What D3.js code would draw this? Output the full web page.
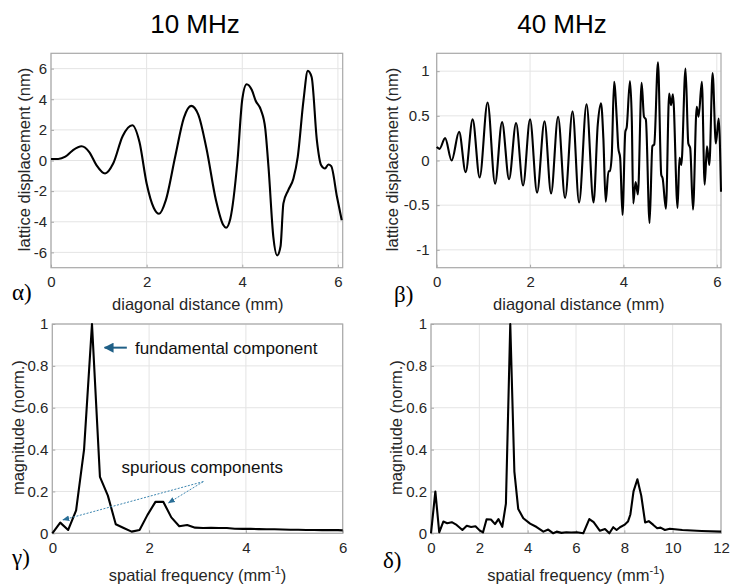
<!DOCTYPE html>
<html><head><meta charset="utf-8">
<script src="https://cdn.jsdelivr.net/npm/d3@7"></script>
<style>
html,body{margin:0;padding:0;background:#fff;}
svg{display:block;font-family:"Liberation Sans",Arial,sans-serif;}
</style></head>
<body>
<script>
// ---------- DATA ----------
const titles = ["10 MHz", "40 MHz"];
const panelLetters = ["α)", "β)", "γ)", "δ)"];

// panel α : 10 MHz lattice displacement (nm) vs diagonal distance (mm)
const distA = [0.00,0.15,0.30,0.45,0.64,0.80,0.95,1.13,1.30,1.50,1.70,1.85,2.00,2.15,2.26,2.40,2.60,2.78,2.93,3.08,3.25,3.45,3.60,3.66,3.75,3.90,4.00,4.09,4.20,4.28,4.39,4.48,4.55,4.65,4.73,4.80,4.86,4.96,5.07,5.16,5.28,5.37,5.45,5.56,5.65,5.73,5.80,5.86,5.98,6.08];
const dispA = [0.10,0.10,0.25,0.65,0.93,0.55,-0.30,-0.85,-0.20,1.60,2.30,1.20,-1.50,-3.10,-3.48,-2.60,0.30,2.80,3.57,3.00,0.80,-2.60,-4.20,-4.39,-3.80,0.00,4.00,4.98,4.60,3.90,3.30,2.10,-0.50,-5.00,-6.20,-5.60,-2.80,-1.95,-1.17,0.24,3.93,5.85,5.45,1.32,-0.31,-0.52,-0.26,-0.37,-2.37,-3.90];

// panel β : 40 MHz lattice displacement (nm)
const distB = [0.00,0.06,0.18,0.32,0.48,0.62,0.77,0.92,1.09,1.25,1.40,1.55,1.70,1.85,2.00,2.15,2.31,2.45,2.60,2.75,2.91,3.05,3.21,3.36,3.45,3.52,3.57,3.62,3.68,3.71,3.75,3.80,3.86,3.89,3.93,3.98,4.04,4.07,4.14,4.18,4.21,4.26,4.31,4.39,4.44,4.48,4.56,4.62,4.66,4.74,4.81,4.84,4.91,4.98,5.02,5.06,5.16,5.20,5.24,5.33,5.39,5.43,5.49,5.57,5.61,5.68,5.74,5.79,5.84,5.91,5.98,6.04,6.09];
const dispB = [0.15,0.13,0.25,0.00,0.32,-0.13,0.46,-0.19,0.65,-0.26,0.43,-0.21,0.42,-0.28,0.46,-0.36,0.44,-0.37,0.49,-0.42,0.55,-0.47,0.63,-0.47,0.40,0.64,0.25,-0.46,-0.12,-0.12,0.06,0.88,0.44,0.14,0.03,-0.61,0.32,0.37,0.89,0.44,-0.48,-0.24,-0.38,0.87,0.49,0.46,-0.70,0.16,0.18,1.10,-0.16,-0.20,-0.54,0.75,0.62,0.74,-0.53,0.03,-0.05,1.03,0.19,0.14,-0.55,0.60,0.49,0.88,-0.27,0.16,-0.05,0.98,0.19,0.47,-0.35];

// panel γ : 10 MHz spectrum, magnitude (norm.) vs spatial frequency (mm^-1)
const freqC = [0.000,0.164,0.328,0.492,0.656,0.820,0.984,1.148,1.311,1.475,1.639,1.803,1.967,2.131,2.295,2.459,2.623,2.787,2.951,3.115,3.279,3.443,3.607,3.770,3.934,4.098,4.262,4.426,4.590,4.754,4.918,5.082,5.246,5.410,5.574,5.738,5.902,6.000];
const magC  = [0.000,0.051,0.016,0.110,0.400,1.000,0.270,0.180,0.043,0.025,0.008,0.016,0.088,0.150,0.150,0.076,0.034,0.040,0.027,0.025,0.026,0.025,0.025,0.022,0.021,0.021,0.020,0.019,0.019,0.018,0.017,0.017,0.016,0.016,0.015,0.015,0.015,0.014];

// panel δ : 40 MHz spectrum
const freqD = [0.00,0.18,0.34,0.51,0.67,0.86,1.06,1.30,1.48,1.66,1.84,2.01,2.15,2.30,2.48,2.65,2.79,2.95,3.10,3.28,3.45,3.61,3.82,4.10,4.37,4.65,4.85,5.06,5.20,5.40,5.60,5.80,6.03,6.30,6.55,6.73,6.99,7.20,7.38,7.54,7.68,7.82,8.00,8.15,8.25,8.38,8.54,8.70,8.86,9.01,9.20,9.36,9.50,9.68,9.88,10.40,11.20,12.00];
const magD  = [0.000,0.200,0.005,0.056,0.048,0.053,0.040,0.016,0.036,0.030,0.034,0.014,0.004,0.067,0.066,0.044,0.068,0.031,0.142,1.000,0.295,0.116,0.072,0.046,0.030,0.008,0.018,0.000,0.008,0.002,0.005,0.004,0.005,0.000,0.068,0.053,0.012,0.020,0.000,0.029,0.016,0.029,0.040,0.056,0.090,0.200,0.258,0.180,0.052,0.058,0.040,0.024,0.027,0.016,0.022,0.016,0.011,0.008];

const ticksA = {x:[0,2,4,6], y:[-6,-4,-2,0,2,4,6]};
const ticksB = {x:[0,2,4,6], y:[-1,-0.5,0,0.5,1]};
const ticksC = {x:[0,2,4,6], y:[0,0.2,0.4,0.6,0.8,1]};
const ticksD = {x:[0,2,4,6,8,10,12], y:[0,0.2,0.4,0.6,0.8,1]};

// ---------- DRAW ----------
const W = 730, H = 584;
const svg = d3.select("body").append("svg").attr("width", W).attr("height", H);
const fmt = v => String(v).replace("−","-");
const tickCol = "#262626";

function panel(cfg) {
  const g = svg.append("g");
  const x = d3.scaleLinear().domain(cfg.xd).range([cfg.l, cfg.r]);
  const y = d3.scaleLinear().domain(cfg.yd).range([cfg.b, cfg.t]);
  // grid
  g.append("g").selectAll("line.gx").data(cfg.ticks.x).join("line")
    .attr("x1", d => x(d)).attr("x2", d => x(d)).attr("y1", cfg.t).attr("y2", cfg.b)
    .attr("stroke", "#e4e4e4").attr("stroke-width", 1);
  g.append("g").selectAll("line.gy").data(cfg.ticks.y).join("line")
    .attr("y1", d => y(d)).attr("y2", d => y(d)).attr("x1", cfg.l).attr("x2", cfg.r)
    .attr("stroke", "#e4e4e4").attr("stroke-width", 1);
  // axes (ticks inward, MATLAB style)
  const xa = d3.axisBottom(x).tickValues(cfg.ticks.x).tickSizeInner(-3).tickSizeOuter(0).tickPadding(9).tickFormat(fmt);
  const ya = d3.axisLeft(y).tickValues(cfg.ticks.y).tickSizeInner(-3).tickSizeOuter(0).tickPadding(cfg.yPad).tickFormat(fmt);
  const gx = g.append("g").attr("transform", `translate(0,${cfg.b})`).call(xa);
  const gy = g.append("g").attr("transform", `translate(${cfg.l},0)`).call(ya);
  [gx, gy].forEach(a => {
    a.selectAll("path.domain").remove();
    a.selectAll("line").attr("stroke", "#a8a8a8");
    a.selectAll("text").attr("fill", tickCol).style("font-size", "15px")
      .style("font-family", '"Liberation Sans",Arial,sans-serif');
  });
  // frame
  g.append("rect").attr("x", cfg.l).attr("y", cfg.t).attr("width", cfg.r - cfg.l).attr("height", cfg.b - cfg.t)
    .attr("fill", "none").attr("stroke", "#a8a8a8").attr("stroke-width", 1.2);
  // data line
  const pts = cfg.xs.map((v, i) => [v, cfg.ys[i]]);
  g.append("path").datum(pts)
    .attr("d", d3.line().x(d => x(d[0])).y(d => y(d[1])).curve(cfg.curve))
    .attr("fill", "none").attr("stroke", "#000").attr("stroke-width", 2.1).attr("stroke-linejoin", "round");
  // x label
  const xl = g.append("text").attr("x", (cfg.l + cfg.r) / 2 + cfg.xlOff).attr("y", cfg.xlY)
    .attr("text-anchor", "middle").attr("fill", tickCol).style("font-size", "16.5px");
  xl.append("tspan").text(cfg.xlabel);
  if (cfg.sup) {
    xl.append("tspan").attr("dy", -7).style("font-size", "11px").text(cfg.sup);
    xl.append("tspan").attr("dy", 7).text(")");
  }
  // y label
  g.append("text").attr("transform", `translate(${cfg.ylX},${(cfg.t + cfg.b) / 2 - 1}) rotate(-90)`)
    .attr("text-anchor", "middle").attr("fill", tickCol).style("font-size", "16.5px").text(cfg.ylabel);
  // panel letter
  g.append("text").attr("x", cfg.letX).attr("y", cfg.letY)
    .style("font-family", '"Liberation Serif","Times New Roman",serif').style("font-size", "23px")
    .attr("fill", "#000").text(cfg.letter);
  return {x, y, g};
}

panel({l:51, r:342.7, t:53.3, b:267.7, xd:[0,6.1], yd:[-7,7], ticks:ticksA, xs:distA, ys:dispA, yPad:4,
  curve:d3.curveMonotoneX, xlabel:"diagonal distance (mm)", xlY:310, xlOff:1, ylabel:"lattice displacement (nm)", ylX:30,
  letter:panelLetters[0], letX:12, letY:300});
panel({l:436.7, r:721, t:53.3, b:267.7, xd:[0,6.09], yd:[-1.2,1.2], ticks:ticksB, xs:distB, ys:dispB, yPad:7,
  curve:d3.curveMonotoneX, xlabel:"diagonal distance (mm)", xlY:310, xlOff:0, ylabel:"lattice displacement (nm)", ylX:398,
  letter:panelLetters[1], letX:394, letY:302});
const pC = panel({l:52.3, r:342.7, t:324, b:533.3, xd:[0,6], yd:[0,1], ticks:ticksC, xs:freqC, ys:magC, yPad:4,
  curve:d3.curveLinear, xlabel:"spatial frequency (mm", sup:"-1", xlY:581, xlOff:0, ylabel:"magnitude (norm.)", ylX:24,
  letter:panelLetters[2], letX:12, letY:565});
panel({l:431, r:721, t:324, b:533.3, xd:[0,12], yd:[0,1], ticks:ticksD, xs:freqD, ys:magD, yPad:4,
  curve:d3.curveLinear, xlabel:"spatial frequency (mm", sup:"-1", xlY:581, xlOff:0, ylabel:"magnitude (norm.)", ylX:402,
  letter:panelLetters[3], letX:383, letY:568});

// titles
[[195, titles[0]], [562, titles[1]]].forEach(([cx, t]) => {
  svg.append("text").attr("x", cx).attr("y", 33).attr("text-anchor", "middle")
    .style("font-size", "26px").attr("fill", "#000").text(t);
});

// annotations in panel γ
const defs = svg.append("defs");
defs.append("marker").attr("id", "ah").attr("viewBox", "0 0 10 10").attr("refX", 9).attr("refY", 5)
  .attr("markerWidth", 5).attr("markerHeight", 5).attr("orient", "auto")
  .append("path").attr("d", "M0,0 L10,5 L0,10 Z").attr("fill", "#1f5f86");
defs.append("marker").attr("id", "ah2").attr("viewBox", "0 0 10 10").attr("refX", 9).attr("refY", 5)
  .attr("markerWidth", 7).attr("markerHeight", 7).attr("orient", "auto")
  .append("path").attr("d", "M0,1 L10,5 L0,9 Z").attr("fill", "#2a6f97");
const ax = pC.x, ay = pC.y, ag = pC.g;
ag.append("line").attr("x1", ax(1.54)).attr("y1", ay(0.887)).attr("x2", ax(1.08)).attr("y2", ay(0.887))
  .attr("stroke", "#1f5f86").attr("stroke-width", 2).attr("marker-end", "url(#ah)");
ag.append("text").attr("x", ax(1.71)).attr("y", ay(0.858)).style("font-size", "17px").attr("fill", "#111")
  .text("fundamental component");
ag.append("text").attr("x", ax(1.43)).attr("y", ay(0.29)).style("font-size", "17px").attr("fill", "#111")
  .text("spurious components");
[[0.22, 0.064], [2.40, 0.145]].forEach(([tx, ty]) => {
  ag.append("line").attr("x1", ax(3.12)).attr("y1", ay(0.247)).attr("x2", ax(tx)).attr("y2", ay(ty))
    .attr("stroke", "#3d86b0").attr("stroke-width", 1).attr("stroke-dasharray", "2,1.5").attr("marker-end", "url(#ah2)");
});
</script>
</body></html>
